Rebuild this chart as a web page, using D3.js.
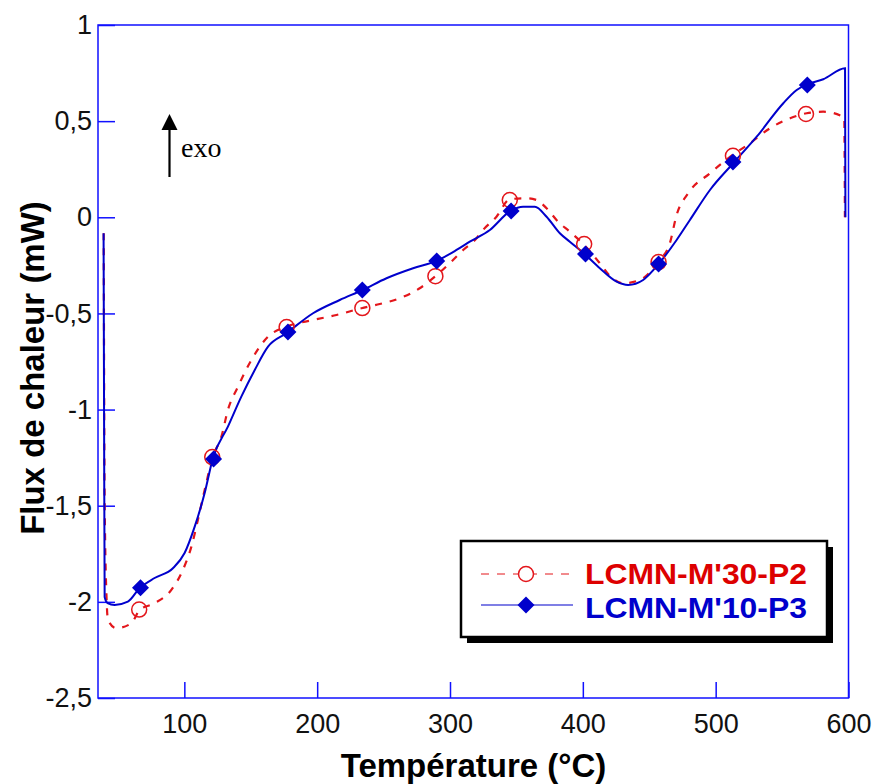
<!DOCTYPE html>
<html><head><meta charset="utf-8">
<script src="https://cdn.jsdelivr.net/npm/d3@7"></script>
<style>body{margin:0;background:#fff}</style>
</head><body><svg id="c" width="874" height="784"></svg>
<script>
// ---- data ----
const seriesNames = ["LCMN-M'30-P2", "LCMN-M'10-P3"];
const xTicks = [100, 200, 300, 400, 500, 600];
const yTicks = [-2.5, -2, -1.5, -1, -0.5, 0, 0.5, 1];

const tempRed = [39.3,40.0,41.5,42.5,48.8,60.1,66.3,77.6,90.2,98.9,105.3,110.2,115.3,121.5,127.9,132.8,140.4,150.5,163.0,176.8,196.9,214.5,233.3,247.1,262.2,277.2,289.3,299.8,309.9,320.0,324.9,335.0,345.0,357.6,365.1,372.7,381.4,390.2,401.0,412.8,420.4,430.4,443.0,456.7,465.5,470.6,479.3,495.7,512.8,525.8,540.9,556.0,568.5,581.0,596.8,597.3];
const fluxRed = [-0.083,-1.47,-1.99,-2.094,-2.137,-2.111,-2.042,-2.007,-1.938,-1.834,-1.713,-1.574,-1.418,-1.245,-1.141,-1.002,-0.881,-0.742,-0.621,-0.569,-0.534,-0.508,-0.473,-0.451,-0.421,-0.369,-0.305,-0.239,-0.170,-0.109,-0.066,0.003,0.094,0.099,0.090,0.047,-0.023,-0.075,-0.144,-0.239,-0.305,-0.343,-0.326,-0.231,-0.135,0.012,0.125,0.229,0.324,0.385,0.463,0.515,0.541,0.549,0.520,0.0];

const tempBlue = [39.2,39.6,40.0,42.2,47.5,57.5,66.3,77.6,91.4,100.2,107.8,115.3,121.5,132.8,142.9,153.0,163.0,176.8,196.9,217.0,234.1,252.2,272.2,289.8,304.9,314.9,330.0,345.6,355.0,363.9,372.7,382.7,390.2,401.5,412.8,425.4,434.1,445.4,457.5,470.6,480.6,495.7,513.2,530.9,550.9,561.0,569.0,581.0,597.4,597.7];
const fluxBlue = [-0.083,-1.089,-1.975,-2.006,-2.016,-1.999,-1.929,-1.876,-1.825,-1.746,-1.609,-1.434,-1.253,-1.089,-0.933,-0.794,-0.673,-0.603,-0.499,-0.430,-0.378,-0.317,-0.265,-0.227,-0.170,-0.127,-0.066,0.033,0.055,0.055,0.003,-0.083,-0.127,-0.192,-0.265,-0.335,-0.352,-0.326,-0.239,-0.118,-0.014,0.142,0.281,0.419,0.593,0.662,0.692,0.718,0.775,0.0];

const markTempRed = [66, 121, 177, 234, 289, 345, 401, 457, 513, 568];
const markFluxRed = [-2.04, -1.247, -0.571, -0.472, -0.306, 0.09, -0.139, -0.233, 0.32, 0.537];
const markTempBlue = [67, 122, 178, 234, 290, 346, 402, 457, 513, 569];
const markFluxBlue = [-1.927, -1.257, -0.596, -0.378, -0.227, 0.033, -0.191, -0.243, 0.288, 0.688];

// ---- drawing ----
const RED = "#e3161b", BLUE = "#0000cc", AXIS = "#1010ff";
const FONT = "Liberation Sans, Arial, sans-serif";
const svg = d3.select("#c");
const L = 98, R = 848.5, T = 25, B = 698;
const x = d3.scaleLinear([35, 600], [L, R]);
const y = d3.scaleLinear([-2.5, 1], [B, T]);
const fmt = d => String(d).replace(".", ",");

// x axis
const gx = svg.append("g").attr("transform", `translate(0,${B})`)
  .call(d3.axisBottom(x).tickValues(xTicks).tickSize(-16).tickPadding(16).tickFormat(fmt));
gx.select(".domain").remove();
gx.selectAll(".tick line").attr("stroke", AXIS).attr("stroke-width", 1.5);
gx.selectAll(".tick text").attr("font-family", FONT).attr("font-size", 27).attr("fill", "#111");

// y axis
const gy = svg.append("g").attr("transform", `translate(${L},0)`)
  .call(d3.axisLeft(y).tickValues(yTicks).tickSize(-17).tickPadding(6).tickFormat(fmt));
gy.select(".domain").remove();
gy.selectAll(".tick line").attr("stroke", AXIS).attr("stroke-width", 1.5);
gy.selectAll(".tick text").attr("font-family", FONT).attr("font-size", 27).attr("fill", "#111");

// frame
svg.append("rect").attr("x", L).attr("y", T).attr("width", R - L).attr("height", B - T)
  .attr("fill", "none").attr("stroke", AXIS).attr("stroke-width", 1.5);

// axis titles
svg.append("text").attr("x", 473.5).attr("y", 777).attr("text-anchor", "middle")
  .attr("font-family", FONT).attr("font-weight", "bold")
  .attr("font-size", 33).attr("fill", "#000").text("Température (°C)");
svg.append("text").attr("transform", "translate(44,368) rotate(-90)").attr("text-anchor", "middle")
  .attr("font-family", FONT).attr("font-weight", "bold")
  .attr("font-size", 33).attr("fill", "#000").text("Flux de chaleur (mW)");

// lines
const line = d3.line().curve(d3.curveMonotoneX);
const redPts = tempRed.map((t, i) => [x(t), y(fluxRed[i])]);
const bluePts = tempBlue.map((t, i) => [x(t), y(fluxBlue[i])]);
svg.append("path").attr("d", line(redPts)).attr("fill", "none").attr("stroke", RED)
  .attr("stroke-width", 2.2).attr("stroke-dasharray", "7,8");
svg.append("path").attr("d", line(bluePts)).attr("fill", "none").attr("stroke", BLUE)
  .attr("stroke-width", 2);

// markers
const diamond = (cx, cy, s) => `M${cx},${cy - s}L${cx + s},${cy}L${cx},${cy + s}L${cx - s},${cy}Z`;
svg.append("g").selectAll("circle").data(markTempRed.map((t, i) => [t, markFluxRed[i]])).join("circle")
  .attr("cx", d => x(d[0])).attr("cy", d => y(d[1])).attr("r", 7.5)
  .attr("fill", "none").attr("stroke", RED).attr("stroke-width", 1.5);
svg.append("g").selectAll("path").data(markTempBlue.map((t, i) => [t, markFluxBlue[i]])).join("path")
  .attr("d", d => diamond(x(d[0]), y(d[1]), 8.5)).attr("fill", BLUE);

// exo arrow
svg.append("line").attr("x1", 169.5).attr("y1", 177).attr("x2", 169.5).attr("y2", 128)
  .attr("stroke", "#000").attr("stroke-width", 2.2);
svg.append("path").attr("d", "M169.5,114L177.5,130L161.5,130Z").attr("fill", "#000");
svg.append("text").attr("x", 181).attr("y", 157).attr("font-family", "Liberation Serif, Times New Roman, serif")
  .attr("font-size", 28).attr("fill", "#000").text("exo");

// legend
const lg = svg.append("g");
lg.append("rect").attr("x", 467).attr("y", 547).attr("width", 366).attr("height", 96).attr("fill", "#000");
lg.append("rect").attr("x", 461).attr("y", 541).attr("width", 366).attr("height", 96)
  .attr("fill", "#fff").attr("stroke", "#000").attr("stroke-width", 2.5);
lg.append("line").attr("x1", 481).attr("x2", 573).attr("y1", 574).attr("y2", 574)
  .attr("stroke", RED).attr("stroke-width", 1).attr("stroke-dasharray", "8,8");
lg.append("circle").attr("cx", 526).attr("cy", 574).attr("r", 7.5).attr("fill", "#fff")
  .attr("stroke", RED).attr("stroke-width", 1.5);
lg.append("line").attr("x1", 481).attr("x2", 573).attr("y1", 605).attr("y2", 605)
  .attr("stroke", BLUE).attr("stroke-width", 1.2);
lg.append("path").attr("d", diamond(526, 605, 8.5)).attr("fill", BLUE);
lg.append("text").attr("x", 585).attr("y", 584).attr("font-family", FONT)
  .attr("font-weight", "bold").attr("font-size", 30).attr("textLength", 222).attr("lengthAdjust", "spacingAndGlyphs")
  .attr("fill", "#dd0000").text(seriesNames[0]);
lg.append("text").attr("x", 585).attr("y", 618).attr("font-family", FONT)
  .attr("font-weight", "bold").attr("font-size", 30).attr("textLength", 222).attr("lengthAdjust", "spacingAndGlyphs")
  .attr("fill", BLUE).text(seriesNames[1]);
</script>
</body></html>
